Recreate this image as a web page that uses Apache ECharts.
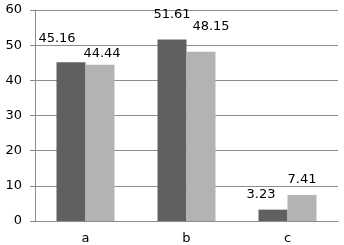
<!DOCTYPE html>
<html>
<head>
<meta charset="utf-8">
<script src="https://cdn.jsdelivr.net/npm/echarts@6/dist/echarts.min.js"></script>
<style>
  html, body { margin: 0; padding: 0; background: #fff; }
  #chart { width: 344px; height: 245px; }
</style>
</head>
<body>
<div id="chart"></div>
<script>
const categories = ['a', 'b', 'c'];
const darkValues = [45.16, 51.61, 3.23];
const lightValues = [44.44, 48.15, 7.41];
const yTicks = [0, 10, 20, 30, 40, 50, 60];

// label nudges, like the overlap-avoiding placement in the original
const darkOffsets = [[-14, -12], [0, -13], [-12, -4]];
const lightOffsets = [[2, 0], [10, -14], [0, -4]];

const font = 'DejaVu Sans';

function withLabels(values, offsets) {
  return values.map((v, i) => ({ value: v, label: { offset: offsets[i] } }));
}

const chart = echarts.init(document.getElementById('chart'));
chart.setOption({
  animation: false,
  grid: { left: 35, right: 6, top: 10, bottom: 24 },
  xAxis: {
    type: 'category',
    data: categories,
    axisLine: { lineStyle: { color: '#8c8c8c', width: 1 } },
    axisTick: { show: false },
    axisLabel: { color: '#000', fontFamily: font, fontSize: 13, margin: 11 }
  },
  yAxis: {
    type: 'value',
    min: yTicks[0],
    max: yTicks[yTicks.length - 1],
    interval: 10,
    axisLine: { show: true, lineStyle: { color: '#8c8c8c', width: 1 } },
    axisTick: { show: true, length: 5, lineStyle: { color: '#8c8c8c' } },
    splitLine: { lineStyle: { color: '#8c8c8c', width: 1 } },
    axisLabel: { color: '#000', fontFamily: font, fontSize: 13, margin: 13 }
  },
  series: [
    {
      type: 'bar',
      data: withLabels(darkValues, darkOffsets),
      barWidth: 29,
      barGap: '0%',
      itemStyle: { color: '#606060' },
      label: { show: true, position: 'top', color: '#000', fontFamily: font, fontSize: 13 }
    },
    {
      type: 'bar',
      data: withLabels(lightValues, lightOffsets),
      barWidth: 29,
      barGap: '0%',
      itemStyle: { color: '#b3b3b3' },
      label: { show: true, position: 'top', color: '#000', fontFamily: font, fontSize: 13 }
    }
  ]
});
</script>
</body>
</html>
